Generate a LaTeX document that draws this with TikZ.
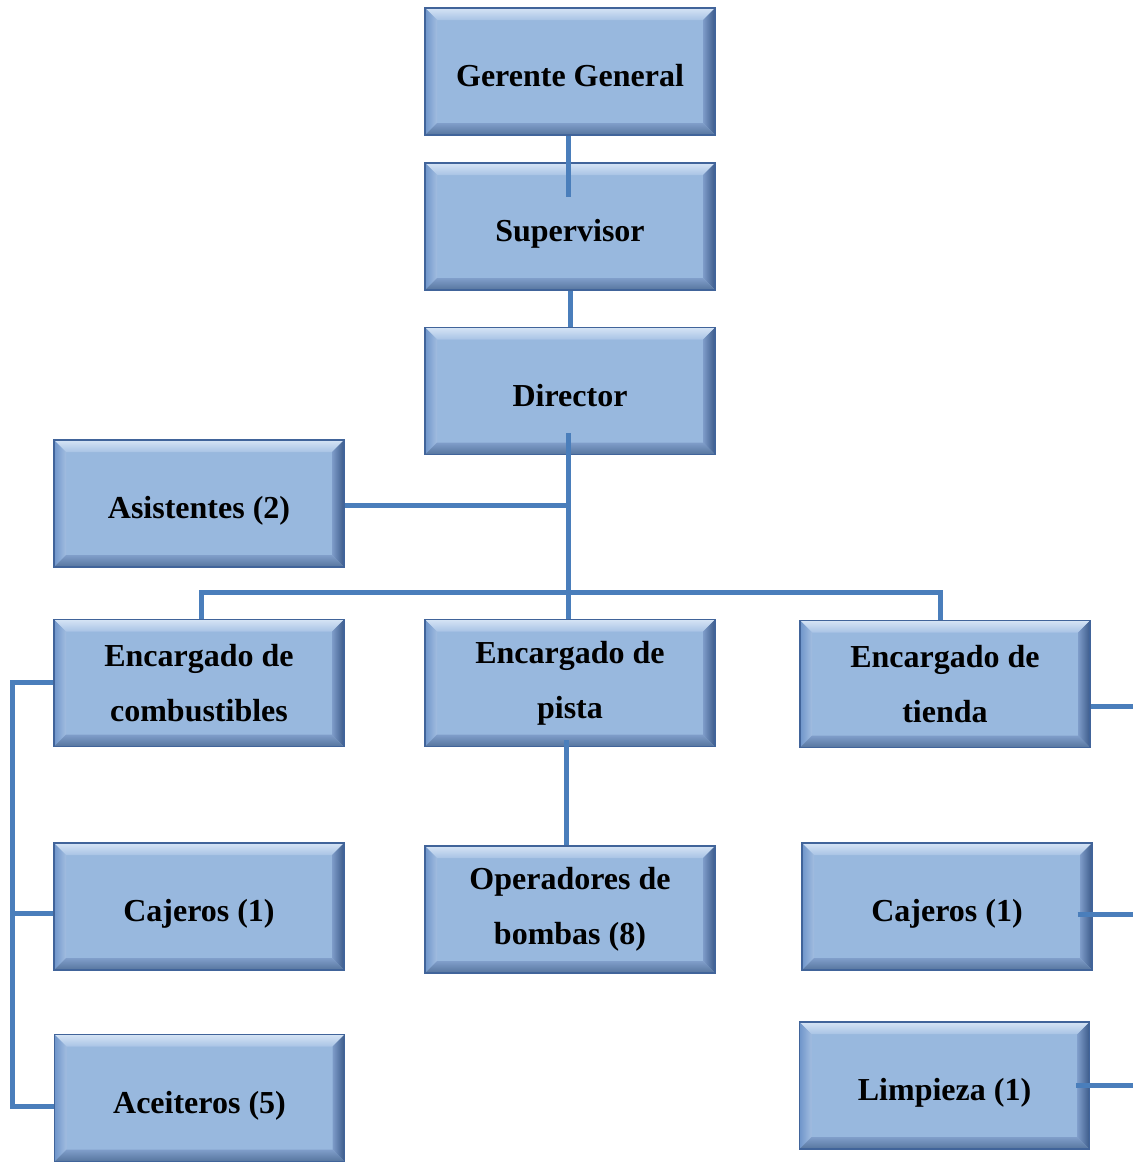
\documentclass[tikz,border=0pt]{standalone}
\usepackage{fontspec}
\setmainfont{Liberation Serif}
\definecolor{boxfill}{HTML}{98B8DE}
\definecolor{boxedge}{HTML}{41649A}
\definecolor{bevtopA}{HTML}{D6E4F5}
\definecolor{bevtopB}{HTML}{A8C3E5}
\definecolor{bevleftA}{HTML}{6F95CA}
\definecolor{bevleftB}{HTML}{A2BDE0}
\definecolor{bevrightA}{HTML}{7E9CC9}
\definecolor{bevrightB}{HTML}{3C5B8A}
\definecolor{bevbotA}{HTML}{809ECA}
\definecolor{bevbotB}{HTML}{56759E}
\definecolor{linkblue}{HTML}{4A7EBB}
\newcommand\bevw{12pt}
\tikzset{
  orgbox/.style={
    draw=boxedge, line width=1.2pt, fill=boxfill,
    minimum width=290pt, minimum height=127pt, inner sep=0pt,
    align=center, font=\fontsize{32}{55}\selectfont\bfseries,
    path picture={
      \coordinate (bNW) at (path picture bounding box.north west);
      \coordinate (bNE) at (path picture bounding box.north east);
      \coordinate (bSW) at (path picture bounding box.south west);
      \coordinate (bSE) at (path picture bounding box.south east);
      % top bevel
      \shade[top color=bevtopA, bottom color=bevtopB]
        (bNW) -- (bNE) -- ([shift={(-\bevw,-\bevw)}]bNE) -- ([shift={(\bevw,-\bevw)}]bNW) -- cycle;
      % left bevel
      \shade[left color=bevleftA, right color=bevleftB]
        (bNW) -- ([shift={(\bevw,-\bevw)}]bNW) -- ([shift={(\bevw,\bevw)}]bSW) -- (bSW) -- cycle;
      % right bevel
      \shade[left color=bevrightA, right color=bevrightB]
        (bNE) -- ([shift={(-\bevw,-\bevw)}]bNE) -- ([shift={(-\bevw,\bevw)}]bSE) -- (bSE) -- cycle;
      % bottom bevel
      \shade[top color=bevbotA, bottom color=bevbotB]
        (bSW) -- ([shift={(\bevw,\bevw)}]bSW) -- ([shift={(-\bevw,\bevw)}]bSE) -- (bSE) -- cycle;
    }},
  oneline/.style={text height=30pt, text depth=0pt},
  link/.style={draw=linkblue, line width=5pt}
}
\begin{document}
\begin{tikzpicture}[x=1pt,y=-1pt]
  \useasboundingbox (0,0) rectangle (1133,1162);

  % boxes
  \node[orgbox,oneline] (ger)   at (570,71.5)  {Gerente General};
  \node[orgbox,oneline] (sup)   at (570,226.5) {Supervisor};
  \node[orgbox,oneline] (dir)   at (570,391)   {Director};
  \node[orgbox,oneline] (asi)   at (199,503.5) {Asistentes (2)};
  \node[orgbox] (ecom)  at (199,683)   {Encargado de\\combustibles};
  \node[orgbox] (epis)  at (570,683)   {Encargado de\\pista};
  \node[orgbox] (etie)  at (945,684)   {Encargado de\\tienda};
  \node[orgbox,oneline] (cajL)  at (199,906.5) {Cajeros (1)};
  \node[orgbox] (oper)  at (570,909.5) {Operadores de\\bombas (8)};
  \node[orgbox,oneline] (cajR)  at (947,906.5) {Cajeros (1)};
  \node[orgbox,oneline] (aceit) at (199.5,1098) {Aceiteros (5)};
  \node[orgbox,oneline] (limp)  at (944.5,1085.5) {Limpieza (1)};

  % free ends and bends of the connectors
  \coordinate (supIn)  at (568,197);
  \coordinate (dirIn)  at (568,433);
  \coordinate (busL)   at (201,592);
  \coordinate (busR)   at (940,592);
  \coordinate (pisIn)  at (566,740);
  \coordinate (railL)  at (12,682);
  \coordinate (railB)  at (12,1106);
  \coordinate (edgeT)  at (1133,706);
  \coordinate (edgeC)  at (1133,914);
  \coordinate (edgeL)  at (1133,1085);

  % connectors
  \draw[link] (ger.south -| supIn) -- (supIn);
  \draw[link] (sup.south) -- (dir.north);
  \draw[link] (dirIn) -- (epis.north -| dirIn);
  \draw[link] (asi.east |- 0,505) -- (dirIn |- 0,505);
  \draw[link] (ecom.north -| busL) -- (busL) -- (busR) -- (etie.north -| busR);
  \draw[link] (pisIn) -- (oper.north -| pisIn);
  \draw[link] (ecom.west |- railL) -- (railL) -- (railB) -- (aceit.west |- railB);
  \draw[link] (railL |- 0,913) -- (cajL.west |- 0,913);
  \draw[link] (etie.east |- edgeT) -- (edgeT);
  \draw[link] ([xshift=-15pt]cajR.east |- edgeC) -- (edgeC);
  \draw[link] ([xshift=-14pt]limp.east |- edgeL) -- (edgeL);
\end{tikzpicture}
\end{document}
